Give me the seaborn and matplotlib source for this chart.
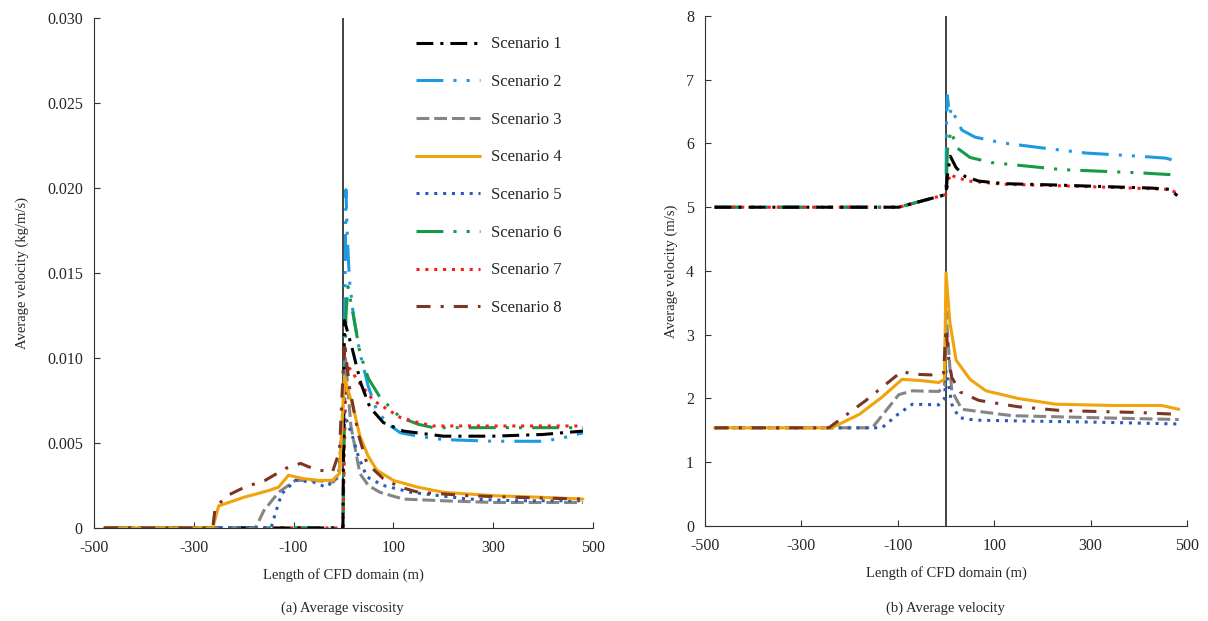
"""Average viscosity / velocity along the CFD domain for 8 scenarios"""
import matplotlib
matplotlib.use('Agg')
import matplotlib.pyplot as plt
import seaborn as sns

sns.set_style('ticks')
plt.rcParams['font.family'] = ['Liberation Serif', 'DejaVu Serif']
plt.rcParams['font.size'] = 10.5
plt.rcParams['axes.unicode_minus'] = False

SCENARIOS = ['Scenario 1', 'Scenario 2', 'Scenario 3', 'Scenario 4',
             'Scenario 5', 'Scenario 6', 'Scenario 7', 'Scenario 8']

# (a) average viscosity (kg/m/s)
visc_x1 = [-480, -1, 2, 18, 35, 53, 80, 120, 200, 300, 400, 480]
visc_y1 = [0, 0, 0.0122, 0.0105, 0.0085, 0.0071, 0.0062, 0.0057, 0.0054,
           0.0054, 0.0055, 0.0057]
visc_x2 = [-480, -1, 5, 8, 12, 20, 33, 50, 67, 90, 114, 150, 200, 300, 400,
           440, 480]
visc_y2 = [0, 0, 0.0199, 0.0170, 0.0146, 0.0125, 0.0103, 0.0083, 0.0069,
           0.0061, 0.0056, 0.0054, 0.0052, 0.0051, 0.0051, 0.0053, 0.0056]
visc_x3 = [-480, -176, -160, -130, -96, -60, -20, -8, 4, 15, 33, 50, 73, 120,
           200, 300, 400, 480]
visc_y3 = [0, 0, 0.0010, 0.0021, 0.0028, 0.0028, 0.0027, 0.0033, 0.0100,
           0.0060, 0.0032, 0.0025, 0.0021, 0.0017, 0.0016, 0.0015, 0.0015,
           0.0015]
visc_x4 = [-480, -262, -250, -200, -150, -130, -110, -80, -50, -22, -8, 2, 10,
           18, 33, 50, 67, 100, 149, 200, 300, 400, 480]
visc_y4 = [0, 0, 0.0013, 0.0018, 0.0022, 0.0024, 0.0031, 0.0029, 0.0028,
           0.0028, 0.0032, 0.0089, 0.0080, 0.0073, 0.0054, 0.0042, 0.0034,
           0.0028, 0.0024, 0.0021, 0.0019, 0.0018, 0.0017]
visc_x5 = [-480, -145, -135, -124, -96, -60, -35, -10, 0, 8, 18, 30, 47, 80,
           135, 250, 350, 480]
visc_y5 = [0, 0, 0.0010, 0.0020, 0.0028, 0.0027, 0.0024, 0.0030, 0.0069,
           0.0062, 0.0054, 0.0042, 0.0030, 0.0025, 0.0021, 0.0017, 0.0016,
           0.0016]
visc_x6 = [-480, -1, 5, 9, 20, 33, 50, 73, 114, 150, 180, 300, 400, 480]
visc_y6 = [0, 0, 0.0125, 0.0142, 0.0125, 0.0103, 0.0088, 0.0077, 0.0065,
           0.0061, 0.0059, 0.0059, 0.0059, 0.0059]
visc_x7 = [-480, -1, 5, 12, 33, 60, 114, 150, 180, 300, 400, 480]
visc_y7 = [0, 0, 0.0090, 0.0094, 0.0085, 0.0075, 0.0065, 0.0062, 0.0060,
           0.0060, 0.0060, 0.0060]
visc_x8 = [-480, -262, -257, -233, -198, -157, -116, -86, -70, -49, -22, -8,
           2, 12, 30, 47, 80, 114, 150, 250, 350, 480]
visc_y8 = [0, 0, 0.0012, 0.0019, 0.0024, 0.0028, 0.0035, 0.0038, 0.0036,
           0.0034, 0.0033, 0.0045, 0.0109, 0.0083, 0.0055, 0.0038, 0.0029,
           0.0024, 0.0021, 0.0019, 0.0018, 0.0017]

# (b) average velocity (m/s)
vel_x1 = [-480, -98, 0, 3, 9, 21, 40, 68, 120, 220, 427, 465, 480]
vel_y1 = [5.0, 5.0, 5.2, 5.5, 5.8, 5.62, 5.48, 5.41, 5.37, 5.35, 5.30, 5.28,
          5.18]
vel_x2 = [-480, -98, 0, 1, 3, 7, 12, 20, 33, 60, 116, 200, 290, 400, 456, 480]
vel_y2 = [5.0, 5.0, 5.2, 6.3, 6.75, 6.45, 6.56, 6.4, 6.21, 6.1, 6.01, 5.93,
          5.85, 5.80, 5.77, 5.72]
vel_x3 = [-480, -153, -98, -70, -15, -3, 0, 8, 12, 33, 137, 300, 483]
vel_y3 = [1.54, 1.54, 2.06, 2.12, 2.11, 2.2, 3.37, 2.5, 2.12, 1.83, 1.73,
          1.70, 1.67]
vel_x4 = [-480, -237, -180, -133, -91, -50, -15, -3, 0, 8, 21, 50, 83, 150,
          228, 350, 448, 483]
vel_y4 = [1.54, 1.54, 1.75, 2.02, 2.30, 2.28, 2.25, 2.3, 3.97, 3.2, 2.6, 2.3,
          2.12, 2.0, 1.91, 1.89, 1.89, 1.83]
vel_x5 = [-480, -133, -100, -70, -15, -3, 0, 8, 12, 27, 60, 137, 300, 483]
vel_y5 = [1.54, 1.54, 1.75, 1.91, 1.90, 2.0, 2.43, 2.1, 1.91, 1.70, 1.66,
          1.65, 1.63, 1.60]
vel_x6 = [-480, -98, 0, 3, 10, 23, 50, 95, 240, 400, 469, 480]
vel_y6 = [5.0, 5.0, 5.2, 5.9, 6.2, 5.93, 5.78, 5.70, 5.59, 5.54, 5.51, 5.47]
vel_x7 = [-480, -98, 0, 8, 20, 48, 120, 220, 350, 463, 480]
vel_y7 = [5.0, 5.0, 5.2, 5.52, 5.47, 5.41, 5.36, 5.34, 5.31, 5.28, 5.22]
vel_x8 = [-480, -243, -166, -91, -70, -29, -5, 0, 6, 12, 30, 68, 150, 240,
          400, 483]
vel_y8 = [1.54, 1.54, 1.97, 2.43, 2.38, 2.37, 2.4, 3.1, 2.6, 2.33, 2.1, 1.97,
          1.87, 1.81, 1.78, 1.75]

visc = [(visc_x1, visc_y1), (visc_x2, visc_y2), (visc_x3, visc_y3),
        (visc_x4, visc_y4), (visc_x5, visc_y5), (visc_x6, visc_y6),
        (visc_x7, visc_y7), (visc_x8, visc_y8)]
vel = [(vel_x1, vel_y1), (vel_x2, vel_y2), (vel_x3, vel_y3),
       (vel_x4, vel_y4), (vel_x5, vel_y5), (vel_x6, vel_y6),
       (vel_x7, vel_y7), (vel_x8, vel_y8)]

# styles
colors = ['#000000', '#1c9be0', '#858585', '#f0a30a',
          '#2a5bb8', '#159a45', '#ff1a1a', '#7b3622']
dashes = [(0, (5.5, 2.3, 1, 2.3)),
          (0, (8.8, 3.3, 1, 3.3, 1, 3.3)),
          (0, (4.2, 1.6)),
          '-',
          (0, (1, 1.9)),
          (0, (8.8, 3.3, 1, 3.3, 1, 3.3)),
          (0, (1, 1.9)),
          (0, (4.6, 3.3, 1, 3.3))]
draw_order = [1, 5, 6, 0, 2, 4, 3, 7]
LW = 2.2

fig = plt.figure(figsize=(12.08, 6.21), dpi=100)
ax1 = fig.add_axes([0.0778, 0.1498, 0.413, 0.8213])
ax2 = fig.add_axes([0.5836, 0.1530, 0.399, 0.8213])

for ax, data in ((ax1, visc), (ax2, vel)):
    for i in draw_order:
        x, y = data[i]
        sns.lineplot(x=x, y=y, ax=ax, color=colors[i], linewidth=LW,
                     linestyle=dashes[i], label=SCENARIOS[i],
                     estimator=None, sort=False, legend=False)
    ax.axvline(0, color='#222222', linewidth=1.2, zorder=0)
    ax.set_xlim(-500, 500)
    ax.set_xticks([-500, -300, -100, 100, 300, 500])
    ax.set_xlabel('Length of CFD domain (m)', labelpad=8)
    ax.tick_params(direction='in', length=4, color='#333333', labelsize=11.5,
                   pad=8)
    ax.tick_params(axis='x', pad=9)
    for side in ('left', 'bottom'):
        ax.spines[side].set_color('#333333')
    sns.despine(ax=ax)

ax1.set_ylim(0, 0.030)
ax1.set_yticks([0, 0.005, 0.010, 0.015, 0.020, 0.025, 0.030])
ax1.set_yticklabels(['0', '0.005', '0.010', '0.015', '0.020', '0.025',
                     '0.030'])
ax1.set_ylabel('Average velocity (kg/m/s)', labelpad=13)

ax2.set_ylim(0, 8)
ax2.set_yticks(range(0, 9))
ax2.set_ylabel('Average velocity (m/s)', labelpad=6)

handles, labels = ax1.get_legend_handles_labels()
pairs = sorted(zip(labels, handles))
ax1.legend([h for _, h in pairs], [l for l, _ in pairs], frameon=False,
           loc='upper left', bbox_to_anchor=(0.633, 0.977), borderaxespad=0,
           handlelength=3.8, handletextpad=0.65, labelspacing=1.3,
           fontsize=12)

fig.text(0.283, 0.014, '(a) Average viscosity', ha='center', fontsize=10.5)
fig.text(0.783, 0.014, '(b) Average velocity', ha='center', fontsize=10.5)

fig.savefig('out.png', dpi=100)
